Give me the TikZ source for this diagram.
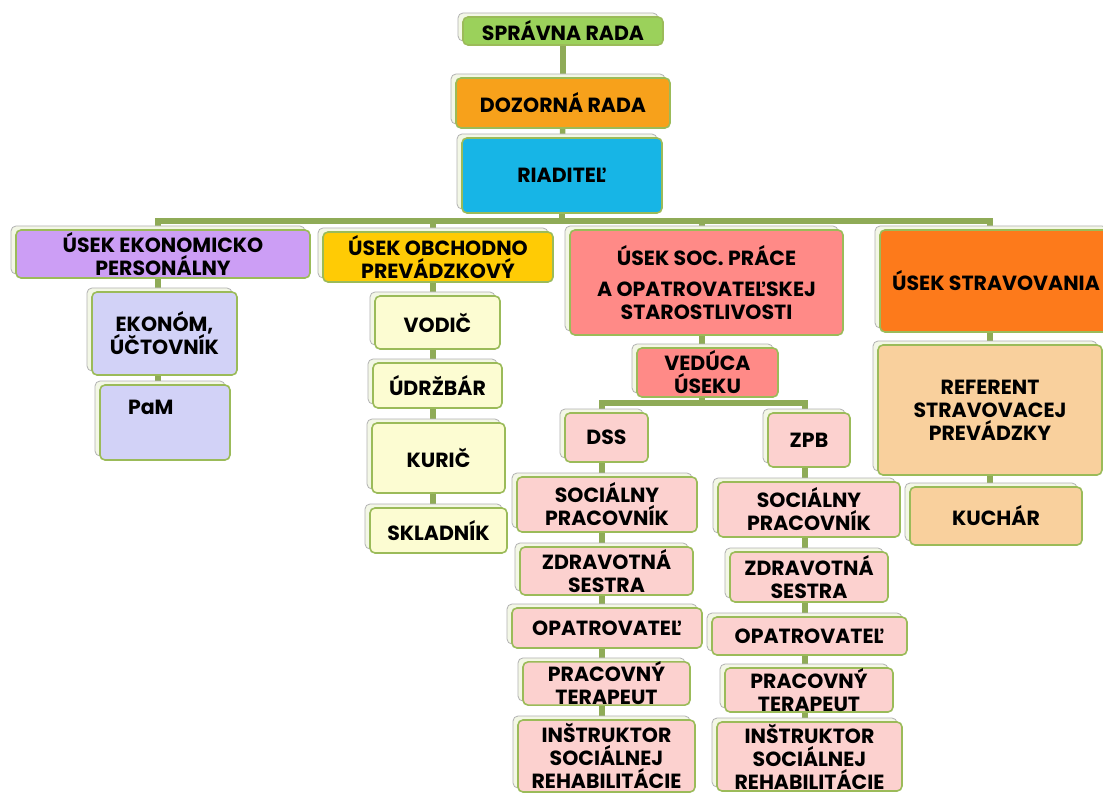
\documentclass[tikz,border=0pt]{standalone}
\usepackage{fontspec}
\setmainfont{Poppins}
\usetikzlibrary{shadows,backgrounds}
\definecolor{boxgreen}{HTML}{9BBB59}
\definecolor{conncol}{HTML}{8FAB57}
\definecolor{backfill}{HTML}{F3F7E6}
\definecolor{sprcol}{HTML}{9BD15B}
\definecolor{dozcol}{HTML}{F7A11B}
\definecolor{riadcol}{HTML}{17B5E6}
\definecolor{ekoncol}{HTML}{CC9EF5}
\definecolor{ekonsub}{HTML}{D2D2F7}
\definecolor{obchcol}{HTML}{FFCB05}
\definecolor{obchsub}{HTML}{FCFCD2}
\definecolor{soccol}{HTML}{FF8A87}
\definecolor{socsub}{HTML}{FCD1CF}
\definecolor{stravcol}{HTML}{FD7A1B}
\definecolor{stravsub}{HTML}{F9D09D}
\tikzset{
  orgbox/.style={draw=boxgreen, line width=1.6pt, rounded corners=5pt,
    font=\bfseries\fontsize{20.5}{23}\selectfont, align=center, inner sep=0pt,
    copy shadow={shadow xshift=-5pt, shadow yshift=4pt, fill=backfill, draw=gray!60, line width=0.8pt}},
  conn/.style={draw=conncol, line width=5.5pt},
}
\newcommand\obox[8][]{%
  \node[orgbox, fill=#7, minimum width={#5-#3}, minimum height={#6-#4}, #1]
    (#2) at ({(#3+#5)/2},{(#4+#6)/2}) {#8};}
\begin{document}
\begin{tikzpicture}[x=1pt,y=-1pt]
\useasboundingbox (0,0) rectangle (1103,794);
\obox{sprav}{463}{17}{663}{45}{sprcol}{SPRÁVNA RADA}
\obox{dozor}{456}{78}{670}{128}{dozcol}{DOZORNÁ RADA}
\obox{riad}{462}{138}{662}{213}{riadcol}{RIADITEĽ}
\obox{ekon}{16}{230}{310}{278}{ekoncol}{ÚSEK EKONOMICKO\\PERSONÁLNY}
\obox{ekonom}{92}{292}{237}{375}{ekonsub}{EKONÓM,\\ÚČTOVNÍK}
\obox[text width=74pt, inner xsep=28pt, align=left]{pam}{100}{385}{230}{460}{ekonsub}{PaM\\\strut}
\obox{obch}{323}{232}{553}{282}{obchcol}{ÚSEK OBCHODNO\\PREVÁDZKOVÝ}
\obox{vodic}{375}{296}{500}{349}{obchsub}{VODIČ}
\obox{udrz}{373}{363}{502}{408}{obchsub}{ÚDRŽBÁR}
\obox{kuric}{372}{423}{505}{493}{obchsub}{KURIČ}
\obox{sklad}{370}{508}{507}{553}{obchsub}{SKLADNÍK}
\obox{soc}{570}{230}{843}{335}{soccol}{ÚSEK SOC. PRÁCE\\[8pt]A OPATROVATEĽSKEJ\\STAROSTLIVOSTI}
\obox{ved}{637}{348}{778}{397}{soccol}{VEDÚCA\\ÚSEKU}
\obox{dss}{565}{413}{648}{462}{socsub}{DSS}
\obox{dsp}{517}{477}{697}{532}{socsub}{SOCIÁLNY\\PRACOVNÍK}
\obox{dzs}{520}{547}{693}{595}{socsub}{ZDRAVOTNÁ\\SESTRA}
\obox{dop}{512}{608}{702}{648}{socsub}{OPATROVATEĽ}
\obox{dpt}{523}{662}{690}{705}{socsub}{PRACOVNÝ\\TERAPEUT}
\obox{din}{518}{720}{695}{792}{socsub}{INŠTRUKTOR\\SOCIÁLNEJ\\REHABILITÁCIE}
\obox{zpb}{768}{413}{850}{467}{socsub}{ZPB}
\obox{zsp}{718}{482}{900}{537}{socsub}{SOCIÁLNY\\PRACOVNÍK}
\obox{zzs}{730}{552}{888}{602}{socsub}{ZDRAVOTNÁ\\SESTRA}
\obox{zop}{712}{617}{907}{655}{socsub}{OPATROVATEĽ}
\obox{zpt}{725}{668}{893}{712}{socsub}{PRACOVNÝ\\TERAPEUT}
\obox{zin}{717}{722}{902}{791}{socsub}{INŠTRUKTOR\\SOCIÁLNEJ\\REHABILITÁCIE}
\obox{strav}{880}{230}{1112}{332}{stravcol}{ÚSEK STRAVOVANIA}
\obox{ref}{878}{345}{1102}{475}{stravsub}{REFERENT\\STRAVOVACEJ\\PREVÁDZKY}
\obox{kuch}{910}{487}{1082}{545}{stravsub}{KUCHÁR}
\begin{pgfonlayer}{background}
\fill[white] (0,0) rectangle (1103,794);
\coordinate (busL) at (158,221);
\coordinate (busO) at (433,221);
\coordinate (busS) at (702,221);
\coordinate (busR) at (990,221);
\coordinate (subL) at (602,403);
\coordinate (subR) at (805,403);
\draw[conn] (sprav) -- (dozor);
\draw[conn] (dozor) -- (riad);
\draw[conn] (riad) -- (riad |- busL);
\draw[conn] (busL |- pam.center) -- (busL) -- (busR) -- (busR |- kuch.center);
\draw[conn] (busO) -- (busO |- sklad.center);
\draw[conn] (busS) -- (busS |- subL);
\draw[conn] (subL |- din.center) -- (subL) -- (subR) -- (subR |- zin.center);
\end{pgfonlayer}
\end{tikzpicture}
\end{document}
